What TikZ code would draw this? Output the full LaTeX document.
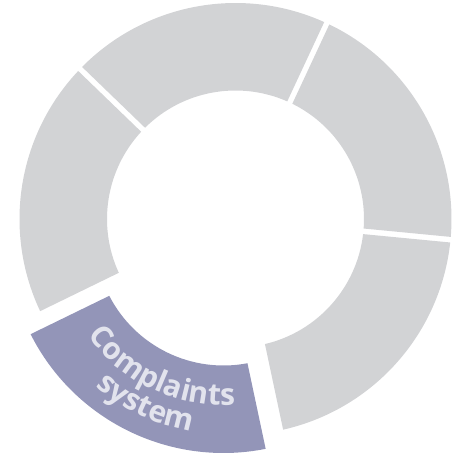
\documentclass[tikz,border=0pt]{standalone}
\usepackage{fontspec}
\setsansfont{Open Sans}
\usetikzlibrary{decorations.text}
\definecolor{seggray}{RGB}{210,211,213}
\definecolor{segpurple}{RGB}{147,149,184}
\definecolor{txtlight}{RGB}{226,227,237}
\newcommand{\Rout}{216}
\newcommand{\Rin}{128.5}
\newcommand{\gapw}{2.8}
\newcommand{\ringseg}[4]{%
  \pgfmathsetmacro{\aoa}{#1+asin(\gapw/\Rout)}%
  \pgfmathsetmacro{\aob}{#2-asin(\gapw/\Rout)}%
  \pgfmathsetmacro{\aia}{#1+asin(\gapw/\Rin)}%
  \pgfmathsetmacro{\aib}{#2-asin(\gapw/\Rin)}%
  \fill[#3, shift={#4}] (\aoa:\Rout pt) arc[start angle=\aoa, end angle=\aob, radius=\Rout pt]
    -- (\aib:\Rin pt) arc[start angle=\aib, end angle=\aia, radius=\Rin pt] -- cycle;
}
\newcommand{\labfont}{\sffamily\bfseries\fontsize{30}{30}\selectfont\color{txtlight}}
\begin{document}
\begin{tikzpicture}[x=1pt,y=1pt]
\useasboundingbox (-235.5,-238) rectangle (229.5,219);
\coordinate (ctr) at (0,0);
\ringseg{-5.5}{65}{seggray}{(0pt,0pt)}
\ringseg{65}{136}{seggray}{(0pt,0pt)}
\ringseg{136}{206}{seggray}{(0pt,0pt)}
\ringseg{282}{354.5}{seggray}{(0pt,0pt)}
\ringseg{206}{282}{segpurple}{(-12pt,-18pt)}
\path[decorate, decoration={text along path, text align=center, text={|\labfont|Complaints}}]
  ([shift={(-12pt,-18pt)}]200:168pt) arc[start angle=200, end angle=290, radius=168pt];
\path[decorate, decoration={text along path, text align=center, text={|\labfont|system}}]
  ([shift={(-12pt,-18pt)}]200:197pt) arc[start angle=200, end angle=290, radius=197pt];
\end{tikzpicture}
\end{document}
